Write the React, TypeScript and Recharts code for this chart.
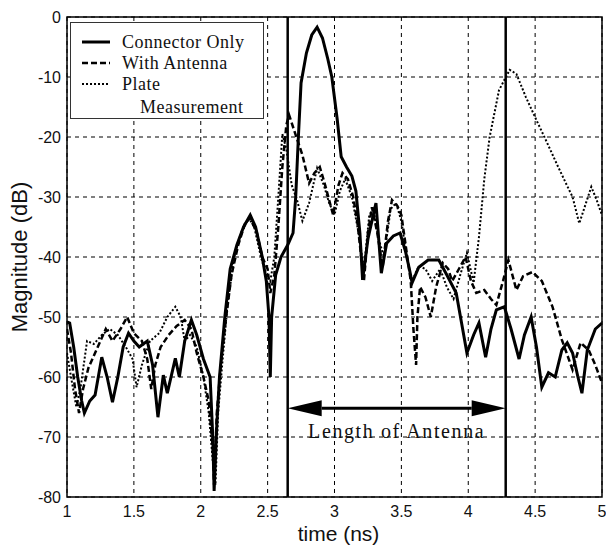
import {
  LineChart,
  Line,
  XAxis,
  YAxis,
  CartesianGrid,
  ReferenceLine,
  ReferenceArea,
} from 'recharts';

// time axis (ns) and magnitude (dB)
const connT = [1.0, 1.02, 1.05, 1.08, 1.11, 1.13, 1.17, 1.21, 1.26, 1.3, 1.34, 1.38, 1.42, 1.46, 1.5, 1.54, 1.6, 1.64, 1.68, 1.72, 1.75, 1.81, 1.84, 1.88, 1.93, 1.97, 2.02, 2.07, 2.09, 2.1, 2.12, 2.14, 2.18, 2.22, 2.27, 2.32, 2.37, 2.41, 2.46, 2.49, 2.51, 2.52, 2.53, 2.56, 2.6, 2.65, 2.69, 2.71, 2.73, 2.75, 2.79, 2.83, 2.87, 2.91, 2.95, 2.98, 3.02, 3.05, 3.09, 3.13, 3.16, 3.19, 3.21, 3.25, 3.31, 3.35, 3.39, 3.44, 3.49, 3.53, 3.56, 3.58, 3.63, 3.7, 3.78, 3.84, 3.91, 3.95, 3.99, 4.04, 4.08, 4.13, 4.17, 4.21, 4.27, 4.32, 4.38, 4.42, 4.47, 4.51, 4.55, 4.6, 4.65, 4.7, 4.74, 4.78, 4.82, 4.85, 4.89, 4.95, 5.0];
const connDb = [-50.8, -51, -55, -60, -64, -66, -64, -63, -56.7, -60, -64.2, -60, -55, -52.7, -54, -55, -54, -58, -66.7, -59.7, -62.7, -56.9, -60, -54, -50.5, -53, -57, -60, -70, -79, -68, -60, -50, -42, -38, -35, -33, -35, -40, -44, -50, -60, -50, -43, -40, -38, -36, -30, -20, -11, -6, -3, -1.7, -3.5, -7, -10, -17, -23.3, -25, -26.5, -29, -36, -43.8, -37, -31, -42.7, -37.7, -36.5, -36, -39, -42, -44.3, -41.7, -40.5, -40.5, -43, -46, -51, -56, -53, -51, -56.7, -52, -48.8, -48.3, -52, -57, -53, -50, -55, -61.7, -59.3, -60, -55.5, -54.3, -56, -60, -62.7, -55.5, -52, -51];

const antT = [1.0, 1.03, 1.06, 1.09, 1.12, 1.16, 1.22, 1.29, 1.34, 1.4, 1.45, 1.5, 1.56, 1.6, 1.63, 1.66, 1.7, 1.76, 1.82, 1.88, 1.93, 1.97, 2.02, 2.06, 2.09, 2.1, 2.12, 2.15, 2.19, 2.23, 2.28, 2.33, 2.37, 2.42, 2.46, 2.5, 2.52, 2.55, 2.58, 2.61, 2.64, 2.66, 2.7, 2.73, 2.76, 2.81, 2.85, 2.89, 2.93, 2.96, 2.99, 3.03, 3.06, 3.1, 3.14, 3.17, 3.2, 3.22, 3.25, 3.28, 3.32, 3.36, 3.4, 3.43, 3.47, 3.5, 3.54, 3.57, 3.59, 3.61, 3.62, 3.64, 3.68, 3.72, 3.76, 3.81, 3.85, 3.88, 3.93, 3.98, 4.02, 4.06, 4.12, 4.17, 4.21, 4.26, 4.3, 4.36, 4.41, 4.48, 4.55, 4.63, 4.7, 4.78, 4.84, 4.9, 4.95, 5.0];
const antDb = [-52, -56, -62, -66, -62, -58.5, -55.5, -52, -54, -52, -50, -52.7, -54, -57, -62, -58, -55, -53, -51.5, -50.5, -52, -56, -60, -64, -72, -78, -66, -58, -50, -43, -38, -34.5, -33.5, -36, -40, -42, -46, -43, -35, -25, -18, -16.3, -19, -21, -23, -27.7, -26, -25, -28, -30.5, -33, -28, -26, -27, -30, -34, -40, -44, -36, -31.7, -36, -41.7, -34, -30.5, -31.5, -33, -39.3, -44, -52, -58, -50, -45, -46.7, -50, -45, -41, -42, -44, -42, -40, -44, -46, -45.5, -47, -48, -44, -40.5, -45.5, -43.2, -42.5, -44, -48.3, -53.8, -58.8, -54.3, -55.5, -58, -61];

const plateT = [1.0, 1.03, 1.07, 1.1, 1.15, 1.2, 1.26, 1.32, 1.38, 1.44, 1.49, 1.52, 1.56, 1.62, 1.69, 1.75, 1.81, 1.85, 1.88, 1.92, 1.97, 2.02, 2.06, 2.09, 2.11, 2.13, 2.16, 2.2, 2.25, 2.3, 2.36, 2.4, 2.45, 2.49, 2.52, 2.55, 2.58, 2.61, 2.64, 2.68, 2.72, 2.76, 2.81, 2.87, 2.92, 2.96, 3.0, 3.04, 3.08, 3.13, 3.18, 3.22, 3.26, 3.29, 3.33, 3.37, 3.42, 3.46, 3.5, 3.54, 3.58, 3.63, 3.68, 3.73, 3.79, 3.84, 3.89, 3.94, 3.99, 4.04, 4.08, 4.12, 4.16, 4.23, 4.31, 4.36, 4.43, 4.51, 4.58, 4.66, 4.73, 4.78, 4.83, 4.87, 4.92, 4.96, 5.0];
const plateDb = [-56, -60, -65, -62, -54, -54.5, -53, -52, -53, -55, -57, -61.7, -58, -54, -52.7, -50, -48.3, -50, -54, -53, -55, -60, -66, -74, -78, -66, -58, -48, -40, -36, -33.5, -35, -40, -43, -44, -40, -30, -19.5, -22, -28, -30.5, -34, -31, -25.2, -28, -31, -33, -29, -27, -30, -36, -42, -33, -32, -37, -40, -32, -31, -34, -40, -44, -41.5, -42, -44, -42, -45, -47, -43, -39.3, -44.3, -36.7, -27, -20, -12.2, -8.8, -9.5, -13.3, -17.2, -20.5, -24.4, -27.7, -30, -34.4, -31.7, -28.3, -30.5, -33];

const xTicks = [1, 1.5, 2, 2.5, 3, 3.5, 4, 4.5, 5];
const yTicks = [-80, -70, -60, -50, -40, -30, -20, -10, 0];

const antennaStart = 2.65;
const antennaEnd = 4.28;
const arrowLevel = -65.2;

const toRows = (t: number[], v: number[]) => t.map((x, i) => ({ t: x, db: v[i] }));
const connector = toRows(connT, connDb);
const withAntenna = toRows(antT, antDb);
const plate = toRows(plateT, plateDb);

const sans = 'Liberation Sans, Arial, sans-serif';
const serif = 'Liberation Serif, Times New Roman, serif';
const tickFont = { fontFamily: sans, fontSize: 16, fill: '#111' };

function DoubleArrow(props: any) {
  const { x1, y1, x2 } = props;
  const head = 34;
  const half = 8;
  return (
    <g>
      <line x1={x1 + head} y1={y1} x2={x2 - head} y2={y1} stroke="#000" strokeWidth={3} />
      <polygon points={`${x1},${y1} ${x1 + head},${y1 - half} ${x1 + head},${y1 + half}`} fill="#000" />
      <polygon points={`${x2},${y1} ${x2 - head},${y1 - half} ${x2 - head},${y1 + half}`} fill="#000" />
      <text x={(x1 + x2) / 2} y={y1 + 30} textAnchor="middle" fontFamily={serif} fontSize={20} letterSpacing={1.6} fill="#111">
        Length of Antenna
      </text>
    </g>
  );
}

function LegendBox() {
  const rows = [
    { label: 'Connector Only', dash: undefined, w: 3 },
    { label: 'With Antenna', dash: '6 3', w: 2.5 },
    { label: 'Plate', dash: '2 2', w: 2 },
  ];
  return (
    <svg width={194} height={97} style={{ position: 'absolute', left: 70, top: 22 }}>
      <rect x={0.5} y={0.5} width={193} height={96} fill="#fff" stroke="#333" />
      {rows.map((r, i) => (
        <g key={r.label}>
          <line x1={12} x2={40} y1={20 + i * 21} y2={20 + i * 21} stroke="#000" strokeWidth={r.w} strokeDasharray={r.dash} />
          <text x={52} y={26 + i * 21} fontFamily={serif} fontSize={18} letterSpacing={0.5} fill="#111">
            {r.label}
          </text>
        </g>
      ))}
      <text x={70} y={91} fontFamily={serif} fontSize={18} letterSpacing={0.5} fill="#111">
        Measurement
      </text>
    </svg>
  );
}

export default function App() {
  return (
    <div style={{ position: 'absolute', left: 0, top: 0, width: 606, height: 547, overflow: 'hidden' }}>
      <LineChart width={606} height={547} margin={{ top: 17, right: 4, left: 0, bottom: 0 }}>
        <CartesianGrid stroke="#000" strokeDasharray="4 4" strokeWidth={1} />
        <XAxis
          dataKey="t"
          type="number"
          domain={[1, 5]}
          ticks={xTicks}
          interval={0}
          allowDataOverflow
          height={50}
          axisLine={false}
          tickLine={false}
          tickSize={0}
          tickMargin={9}
          tick={tickFont}
          label={(p: any) => (
            <text
              x={p.viewBox.x + p.viewBox.width / 2 + 4}
              y={p.viewBox.y + 44}
              textAnchor="middle"
              fontFamily={sans}
              fontSize={21}
              fill="#111"
            >
              time (ns)
            </text>
          )}
        />
        <YAxis
          type="number"
          domain={[-80, 0]}
          ticks={yTicks}
          interval={0}
          allowDataOverflow
          width={67}
          axisLine={false}
          tickLine={false}
          tickSize={0}
          tickMargin={6}
          tick={tickFont}
          label={(p: any) => (
            <text
              x={27}
              y={p.viewBox.y + p.viewBox.height / 2}
              transform={`rotate(-90, 27, ${p.viewBox.y + p.viewBox.height / 2})`}
              textAnchor="middle"
              fontFamily={sans}
              fontSize={22}
              fill="#111"
            >
              Magnitude (dB)
            </text>
          )}
        />
        <ReferenceArea x1={1} x2={5} y1={-80} y2={0} fill="none" stroke="#000" strokeWidth={1.5} />
        <Line data={plate} dataKey="db" type="linear" stroke="#000" strokeWidth={2} strokeDasharray="2 2" dot={false} isAnimationActive={false} />
        <Line data={withAntenna} dataKey="db" type="linear" stroke="#000" strokeWidth={2.5} strokeDasharray="6 3" dot={false} isAnimationActive={false} />
        <Line data={connector} dataKey="db" type="linear" stroke="#000" strokeWidth={3} dot={false} isAnimationActive={false} />
        <ReferenceLine x={antennaStart} stroke="#000" strokeWidth={2.5} />
        <ReferenceLine x={antennaEnd} stroke="#000" strokeWidth={2.5} />
        <ReferenceLine
          segment={[
            { x: antennaStart, y: arrowLevel },
            { x: antennaEnd, y: arrowLevel },
          ]}
          shape={DoubleArrow}
        />
      </LineChart>
      <LegendBox />
    </div>
  );
}
